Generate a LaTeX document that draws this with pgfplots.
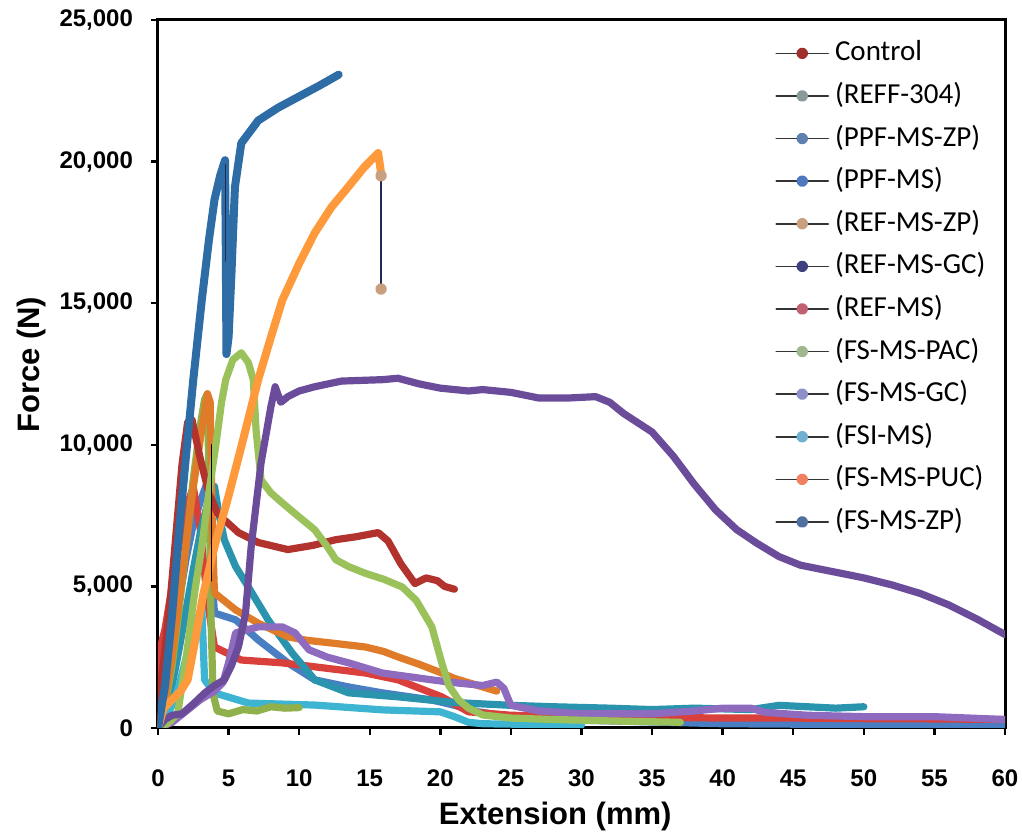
\documentclass[border=0pt]{standalone}
\usepackage{fontspec}
\setmainfont{Liberation Sans}
\newfontfamily\legendfont{Carlito}
\usepackage{pgfplots}
\pgfplotsset{compat=1.18}
% curve colours
\definecolor{cCtrl}{HTML}{B2322D}
\definecolor{cRef}{HTML}{D9403C}
\definecolor{cZP}{HTML}{2E6CA5}
\definecolor{cPUC}{HTML}{FF9A3C}
\definecolor{cPAC}{HTML}{9BC25A}
\definecolor{cGCd}{HTML}{6B4C9A}
\definecolor{cGC}{HTML}{8E6BBF}
\definecolor{cCyan}{HTML}{3CB4D2}
\definecolor{cTeal}{HTML}{2A93AE}
\definecolor{cBlue}{HTML}{4A7EC2}
\definecolor{cBrown}{HTML}{E07B2A}
\definecolor{cOlive}{HTML}{8FB04A}
\definecolor{cNavy}{HTML}{1F2A5A}
% legend marker colours
\definecolor{mCtrl}{HTML}{A03030}
\definecolor{mREFF}{HTML}{8A9A9A}
\definecolor{mPPFZP}{HTML}{6080B0}
\definecolor{mPPF}{HTML}{5078C0}
\definecolor{mREFZP}{HTML}{C8A080}
\definecolor{mREFGC}{HTML}{404080}
\definecolor{mREF}{HTML}{C06070}
\definecolor{mPAC}{HTML}{A0B890}
\definecolor{mFSGC}{HTML}{9090C8}
\definecolor{mFSI}{HTML}{70B0D0}
\definecolor{mPUC}{HTML}{F08060}
\definecolor{mFSZP}{HTML}{5070A0}
\begin{document}
\begin{tikzpicture}
\begin{axis}[
  at={(0,0)}, anchor=south west,
  scale only axis, width=423.5pt, height=354pt,
  xmin=0, xmax=60, ymin=0, ymax=25000,
  xtick={0,5,...,60}, ytick={0,5000,...,25000},
  scaled y ticks=false,
  axis line style={line width=1.5pt},
  tick style={black, line width=1.2pt},
  major tick length=3.5pt, tick align=outside,
  xtick pos=bottom, ytick pos=left,
  /pgf/number format/assume math mode=true,
  ticklabel style={font=\bfseries\fontsize{12}{14}\selectfont},
  xticklabel style={yshift=-14pt},
  yticklabel style={xshift=-5.5pt},
  xlabel={Extension (mm)}, ylabel={Force (N)},
  label style={font=\bfseries\fontsize{15.5}{18}\selectfont},
  xlabel style={at={(axis description cs:0.469,-0.125)}, anchor=center},
  ylabel style={at={(axis description cs:-0.149,0.513)}, anchor=center},
  legend style={at={(axis description cs:0.7285,0.9725)}, anchor=north west,
    draw=none, fill=none, inner sep=0pt, row sep=7.8pt, column sep=3pt,
    font=\legendfont\fontsize{14.5}{17}\selectfont,
    nodes={inner sep=0pt, text height=10.5pt, text depth=3pt}},
  legend cell align=left,
  legend image code/.code={\draw[black!80, line width=0.8pt] (0pt,0pt) -- (26pt,0pt); \fill[#1] (13pt,0pt) circle (1.1pt);},
  every axis plot/.append style={line width=3.6pt, line join=round, line cap=round},
]
\addlegendimage{mCtrl}
\addlegendimage{mREFF}
\addlegendimage{mPPFZP}
\addlegendimage{mPPF}
\addlegendimage{mREFZP}
\addlegendimage{mREFGC}
\addlegendimage{mREF}
\addlegendimage{mPAC}
\addlegendimage{mFSGC}
\addlegendimage{mFSI}
\addlegendimage{mPUC}
\addlegendimage{mFSZP}
\legend{Control,(REFF-304),(PPF-MS-ZP),(PPF-MS),(REF-MS-ZP),(REF-MS-GC),(REF-MS),(FS-MS-PAC),(FS-MS-GC),(FSI-MS),(FS-MS-PUC),(FS-MS-ZP)}

% PPF-MS (blue)
\addplot[cBlue, forget plot] coordinates {(0,0)(0.5,1200)(1,2800)(1.5,4500)(2,6000)(2.5,7200)(3,8000)(3.55,8760)(3.75,7000)(3.9,4800)(4,4060)(5.5,3820)(7.1,3110)(9.2,2300)(11.1,1700)(13.5,1450)(15.9,1240)(19.4,990)(21,800)(22.7,570)(25,400)(28,300)(32,250)(36,200)(40,150)(50,120)(60,100)};
% REF-MS (red)
\addplot[cRef, forget plot] coordinates {(0,0)(0.1,2700)(0.5,3500)(1,5000)(1.5,6500)(2,7800)(2.5,8500)(3,7000)(3.5,4500)(4,2860)(5.9,2400)(8.8,2300)(11.1,2160)(14.7,1940)(17,1700)(20.1,1100)(22,570)(25,450)(30,400)(35,380)(40,350)(45,350)(50,330)(55,320)(60,300)};
% FSI-MS (teal)
\addplot[cTeal, forget plot] coordinates {(0,0)(0.5,500)(1,1500)(1.5,2800)(2,4200)(2.5,5600)(3,6900)(3.5,7900)(4.0,8530)(4.3,7600)(4.7,6640)(5.5,5700)(6.4,4980)(7.8,3820)(9.5,2650)(11.1,1700)(13.5,1240)(17,1100)(19,1000)(21,900)(23,850)(25,800)(28,750)(32,700)(35,650)(38,700)(42,650)(44,800)(46,750)(48,700)(50,750)};
% cyan
\addplot[cCyan, forget plot] coordinates {(0,0)(0.5,300)(1,800)(1.5,1500)(2,2500)(2.5,3400)(3.1,4280)(3.3,1700)(4,1240)(6.4,880)(11.1,810)(15.9,640)(20,570)(21,400)(22,200)(23,150)(30,100)};
% olive
\addplot[cOlive, forget plot] coordinates {(0,0)(0.5,800)(1,2200)(1.5,4200)(2,6500)(2.5,8800)(3,10700)(3.3,11600)(3.5,11800)(3.6,9000)(3.75,4000)(3.9,1200)(4.2,600)(5,500)(6,650)(7,600)(8,750)(9,700)(10,720)};
% REF-MS-ZP (brown orange)
\addplot[cBrown, forget plot] coordinates {(0,0)(0.5,1000)(1,2500)(1.5,4500)(2,6500)(2.5,8500)(3,10200)(3.5,11800)(3.7,11500)(3.85,7000)(4.0,4770)(5.5,4170)(7.1,3700)(9.2,3220)(10.5,3100)(12.3,3000)(14.7,2860)(16,2700)(17,2510)(18.5,2250)(20.1,1940)(21,1750)(22,1600)(23,1450)(24,1300)};
% FS-MS-GC (lavender)
\addplot[cGC, forget plot] coordinates {(0,0)(1,200)(2,600)(3,1000)(4,1300)(4.6,1600)(5,2300)(5.5,3360)(7.1,3570)(8.8,3570)(9.7,3360)(10.7,2760)(12,2500)(13.5,2300)(15.9,1940)(19.4,1700)(21,1600)(23,1500)(24,1620)(24.5,1400)(25,800)(27,600)(30,500)(35,500)(38,600)(40,700)(42,700)(43,550)(46,450)(50,400)(55,400)(60,300)};
% Control
\addplot[cCtrl, forget plot] coordinates {(0,0)(0.2,1500)(0.5,2800)(0.9,4700)(1.3,7000)(1.7,9300)(2.1,10800)(2.4,10900)(3.0,9500)(3.6,8300)(4.2,7600)(4.7,7350)(5.7,6900)(7.1,6550)(9.2,6300)(11,6450)(12.6,6650)(14,6750)(15.6,6900)(16.3,6600)(17.2,5800)(18.2,5100)(19,5300)(19.8,5200)(20.3,5000)(21,4900)};
% FS-MS-PAC (light green)
\addplot[cPAC, forget plot] coordinates {(0,0)(0.8,200)(1.4,520)(2,2500)(2.6,4800)(3.1,6400)(3.6,8300)(4.1,10000)(4.5,11500)(4.8,12300)(5.3,13000)(5.9,13250)(6.4,12900)(6.75,12300)(6.95,10500)(7.3,8760)(8,8300)(8.8,7950)(10,7450)(11.1,7000)(12,6400)(12.6,5940)(13.5,5700)(14.7,5460)(16,5250)(17.3,4980)(18.3,4500)(19.4,3570)(20.1,2300)(20.6,1500)(21.3,990)(22,700)(23,460)(25,350)(28,300)(32,250)(35,220)(37,200)};
% REF-MS-GC (dark purple)
\addplot[cGCd, forget plot] coordinates {(0,0)(0.5,300)(1,450)(1.7,500)(2.5,850)(3.3,1230)(4.0,1500)(4.7,1700)(5.2,2200)(5.7,2870)(6.2,4050)(6.6,6400)(7.3,9360)(8.0,11350)(8.3,12050)(8.7,11500)(9.2,11700)(10,11900)(11.1,12050)(13,12250)(15.9,12300)(17,12350)(18.5,12150)(20,12000)(22,11900)(23,11950)(25,11850)(27,11650)(29,11650)(31,11700)(32,11500)(33,11100)(35,10450)(36.5,9600)(38,8600)(39.5,7700)(41,7000)(42.5,6500)(44,6050)(45.5,5750)(47,5600)(48.5,5450)(50,5300)(52,5050)(54,4750)(56,4350)(58,3850)(60,3300)};
% FS-MS-PUC (orange)
\addplot[cPUC, line width=4pt, forget plot] coordinates {(0,0)(0.4,700)(1,1000)(1.6,1300)(2.1,1700)(2.6,3000)(3.2,4700)(4.0,6400)(5,8200)(5.9,9930)(7.1,12300)(8,13800)(8.8,15100)(10,16400)(11.1,17480)(12.3,18400)(13.5,19120)(14.6,19800)(15.6,20300)(15.8,19600)};
% FS-MS-ZP (steel blue)
\addplot[cZP, line width=4pt, forget plot] coordinates {(0,0)(0.5,1500)(1,4000)(1.5,7000)(2,9700)(2.5,12300)(3.1,15100)(3.6,17200)(4.0,18650)(4.4,19500)(4.75,20050)(4.8,17000)(4.85,13200)(5.0,13800)(5.2,16000)(5.45,19100)(5.9,20650)(7.1,21450)(8.5,21900)(10,22300)(11.5,22700)(12.8,23070)};
% thin dark connectors
\addplot[cNavy, line width=0.8pt, forget plot] coordinates {(15.8,19500)(15.8,15500)};
\addplot[cNavy, line width=0.8pt, forget plot] coordinates {(4.78,19900)(4.78,16500)};
\addplot[black, line width=0.8pt, forget plot] coordinates {(3.8,10000)(3.8,5200)};
\addplot[only marks, mark=*, mark size=1.1pt, color=mREFZP, forget plot] coordinates {(15.8,19500)(15.8,15500)};
\end{axis}
\pgfresetboundingbox
\path (-79pt,-55pt) rectangle (432pt,364pt);
\end{tikzpicture}
\end{document}
